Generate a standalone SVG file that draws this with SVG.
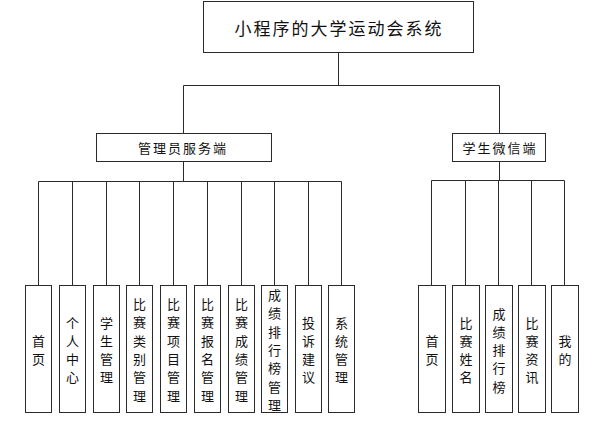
<svg xmlns="http://www.w3.org/2000/svg" width="605" height="423" viewBox="0 0 605 423">
<style>
.box{fill:#fff;stroke:#2a2a2a;stroke-width:1}
.ln{fill:none;stroke:#2a2a2a;stroke-width:1}
text{font-family:"Noto Sans CJK SC","Noto Sans",sans-serif;fill:#111;text-anchor:middle;dominant-baseline:central}
.t1{font-size:17px;letter-spacing:2px}
.t2{font-size:13px;letter-spacing:2px}
.t3{font-size:13px}
</style>
<rect width="605" height="423" fill="#fff"/>
<g id="connectors">
<path class="ln" d="M338.5,52 V85.5 M183.5,85.5 H499.5 M183.5,85.5 V133 M499.5,85.5 V133"/>
<path class="ln" d="M183.5,161 V181.5 M38.5,181.5 H341.5 M38.5,181.5 V285 M72.5,181.5 V285 M106.5,181.5 V285 M139.5,181.5 V285 M173.5,181.5 V285 M207.5,181.5 V285 M241.5,181.5 V285 M274.5,181.5 V285 M308.5,181.5 V285 M341.5,181.5 V285"/>
<path class="ln" d="M499.5,161 V180.5 M431.5,180.5 H564.5 M431.5,180.5 V285 M465.5,180.5 V285 M498.5,180.5 V285 M531.5,180.5 V285 M564.5,180.5 V285"/>
</g>
<g id="root"><rect class="box" x="203.5" y="1.5" width="270" height="51"/><text class="t1" x="339" y="27">小程序的大学运动会系统</text></g>
<g id="admin"><rect class="box" x="96.5" y="133.5" width="175" height="28"/><text class="t2" x="183" y="147.5">管理员服务端</text></g>
<g id="student"><rect class="box" x="452.5" y="133.5" width="93" height="28"/><text class="t2" x="500" y="147.5">学生微信端</text></g>
<g id="a1"><rect class="box" x="25.5" y="285.5" width="26" height="127"/><text class="t3" x="38.5" y="349"><tspan x="38.5" dy="-9">首</tspan><tspan x="38.5" dy="18.3">页</tspan></text></g>
<g id="a2"><rect class="box" x="59.5" y="285.5" width="26" height="127"/><text class="t3"><tspan x="72.5" y="321.5">个</tspan><tspan x="72.5" dy="18.3">人</tspan><tspan x="72.5" dy="18.3">中</tspan><tspan x="72.5" dy="18.3">心</tspan></text></g>
<g id="a3"><rect class="box" x="93.5" y="285.5" width="26" height="127"/><text class="t3"><tspan x="106.5" y="321.5">学</tspan><tspan x="106.5" dy="18.3">生</tspan><tspan x="106.5" dy="18.3">管</tspan><tspan x="106.5" dy="18.3">理</tspan></text></g>
<g id="a4"><rect class="box" x="126.5" y="285.5" width="26" height="127"/><text class="t3"><tspan x="139.5" y="303">比</tspan><tspan x="139.5" dy="18.3">赛</tspan><tspan x="139.5" dy="18.3">类</tspan><tspan x="139.5" dy="18.3">别</tspan><tspan x="139.5" dy="18.3">管</tspan><tspan x="139.5" dy="18.3">理</tspan></text></g>
<g id="a5"><rect class="box" x="160.5" y="285.5" width="26" height="127"/><text class="t3"><tspan x="173.5" y="303">比</tspan><tspan x="173.5" dy="18.3">赛</tspan><tspan x="173.5" dy="18.3">项</tspan><tspan x="173.5" dy="18.3">目</tspan><tspan x="173.5" dy="18.3">管</tspan><tspan x="173.5" dy="18.3">理</tspan></text></g>
<g id="a6"><rect class="box" x="194.5" y="285.5" width="26" height="127"/><text class="t3"><tspan x="207.5" y="303">比</tspan><tspan x="207.5" dy="18.3">赛</tspan><tspan x="207.5" dy="18.3">报</tspan><tspan x="207.5" dy="18.3">名</tspan><tspan x="207.5" dy="18.3">管</tspan><tspan x="207.5" dy="18.3">理</tspan></text></g>
<g id="a7"><rect class="box" x="228.5" y="285.5" width="26" height="127"/><text class="t3"><tspan x="241.5" y="303">比</tspan><tspan x="241.5" dy="18.3">赛</tspan><tspan x="241.5" dy="18.3">成</tspan><tspan x="241.5" dy="18.3">绩</tspan><tspan x="241.5" dy="18.3">管</tspan><tspan x="241.5" dy="18.3">理</tspan></text></g>
<g id="a8"><rect class="box" x="261.5" y="285.5" width="26" height="127"/><text class="t3"><tspan x="274.5" y="294">成</tspan><tspan x="274.5" dy="18.3">绩</tspan><tspan x="274.5" dy="18.3">排</tspan><tspan x="274.5" dy="18.3">行</tspan><tspan x="274.5" dy="18.3">榜</tspan><tspan x="274.5" dy="18.3">管</tspan><tspan x="274.5" dy="18.3">理</tspan></text></g>
<g id="a9"><rect class="box" x="295.5" y="285.5" width="26" height="127"/><text class="t3"><tspan x="308.5" y="321.5">投</tspan><tspan x="308.5" dy="18.3">诉</tspan><tspan x="308.5" dy="18.3">建</tspan><tspan x="308.5" dy="18.3">议</tspan></text></g>
<g id="a10"><rect class="box" x="328.5" y="285.5" width="26" height="127"/><text class="t3"><tspan x="341.5" y="321.5">系</tspan><tspan x="341.5" dy="18.3">统</tspan><tspan x="341.5" dy="18.3">管</tspan><tspan x="341.5" dy="18.3">理</tspan></text></g>
<g id="s1"><rect class="box" x="418.5" y="285.5" width="27" height="127"/><text class="t3"><tspan x="432" y="340">首</tspan><tspan x="432" dy="18.3">页</tspan></text></g>
<g id="s2"><rect class="box" x="452.5" y="285.5" width="27" height="127"/><text class="t3"><tspan x="466" y="321.5">比</tspan><tspan x="466" dy="18.3">赛</tspan><tspan x="466" dy="18.3">姓</tspan><tspan x="466" dy="18.3">名</tspan></text></g>
<g id="s3"><rect class="box" x="485.5" y="285.5" width="27" height="127"/><text class="t3"><tspan x="499" y="312.5">成</tspan><tspan x="499" dy="18.3">绩</tspan><tspan x="499" dy="18.3">排</tspan><tspan x="499" dy="18.3">行</tspan><tspan x="499" dy="18.3">榜</tspan></text></g>
<g id="s4"><rect class="box" x="518.5" y="285.5" width="27" height="127"/><text class="t3"><tspan x="532" y="321.5">比</tspan><tspan x="532" dy="18.3">赛</tspan><tspan x="532" dy="18.3">资</tspan><tspan x="532" dy="18.3">讯</tspan></text></g>
<g id="s5"><rect class="box" x="551.5" y="285.5" width="27" height="127"/><text class="t3"><tspan x="565" y="340">我</tspan><tspan x="565" dy="18.3">的</tspan></text></g>
</svg>
